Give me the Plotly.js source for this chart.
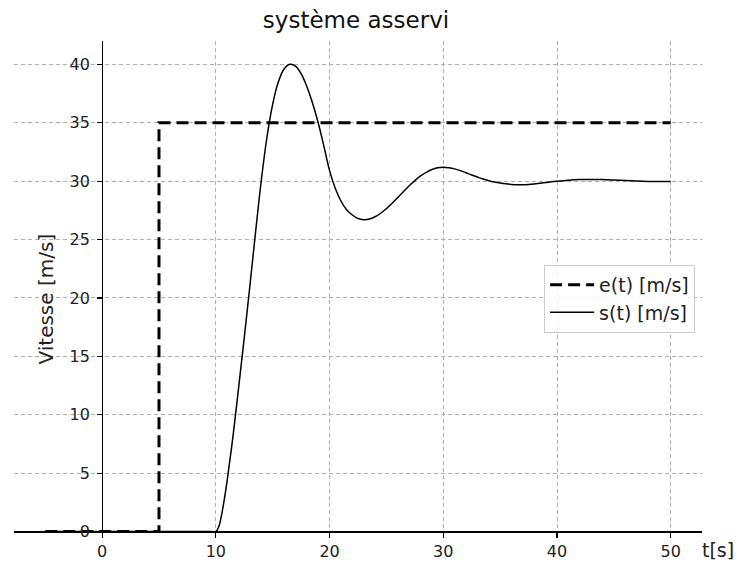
<!DOCTYPE html>
<html>
<head>
<meta charset="utf-8">
<script src="https://cdn.plot.ly/plotly-3.0.1.min.js"></script>
<style>html,body{margin:0;padding:0;background:#fff;}#chart{width:739px;height:563px;}</style>
</head>
<body>
<div id="chart"></div>
<script>
// e(t) consigne (step)
const eT = [-5, 5, 5, 50];
const eV = [0, 0, 35, 35];

// s(t) réponse du système asservi
const sT = [-5, 0, 5, 9.5, 10, 10.25, 10.5, 10.75, 11, 11.5, 12, 12.5, 13, 13.5, 14, 14.5, 15, 15.5, 16, 16.5, 17, 17.5, 18, 18.5, 19, 19.5, 20, 20.5, 21, 21.5, 22, 22.5, 23, 23.5, 24, 24.5, 25, 25.5, 26, 26.5, 27, 27.5, 28, 28.5, 29, 29.5, 30, 30.5, 31, 31.5, 32, 32.5, 33, 33.5, 34, 34.5, 35, 35.5, 36, 36.5, 37, 37.5, 38, 38.5, 39, 39.5, 40, 41, 42, 43, 44, 45, 46, 47, 48, 49, 50];
const sV = [0, 0, 0, 0, 0, 0.4, 1.4, 2.8, 4.4, 8.1, 12.3, 16.6, 21.1, 25.7, 30.1, 33.8, 36.6, 38.5, 39.6, 40.0, 39.85, 39.2, 38.1, 36.7, 35.0, 33.0, 30.9, 29.4, 28.3, 27.55, 27.1, 26.8, 26.7, 26.75, 26.95, 27.25, 27.65, 28.1, 28.6, 29.1, 29.6, 30.05, 30.45, 30.75, 31.0, 31.15, 31.2, 31.15, 31.05, 30.9, 30.72, 30.53, 30.35, 30.18, 30.04, 29.93, 29.84, 29.77, 29.72, 29.7, 29.7, 29.72, 29.76, 29.82, 29.88, 29.95, 30.0, 30.08, 30.13, 30.15, 30.14, 30.1, 30.05, 30.01, 29.98, 29.97, 29.97];

const xTicks = [0, 10, 20, 30, 40, 50];
const yTicks = [0, 5, 10, 15, 20, 25, 30, 35, 40];
const xRange = [-7.75, 52.75];
const yRange = [-0.3, 42];

const FONT = "DejaVu Sans";
const xPos = (0 - yRange[0]) / (yRange[1] - yRange[0]);
const yPos = (0 - xRange[0]) / (xRange[1] - xRange[0]);

const traces = [
  {x: eT, y: eV, type: 'scatter', mode: 'lines', name: 'e(t) [m/s]',
   line: {color: '#000', width: 3, dash: '12px,6px'}},
  {x: sT, y: sV, type: 'scatter', mode: 'lines', name: 's(t) [m/s]',
   line: {color: '#000', width: 1.5, shape: 'spline', smoothing: 1}}
];

const layout = {
  width: 739, height: 563,
  margin: {l: 14, r: 37, t: 41, b: 28},
  paper_bgcolor: '#fff', plot_bgcolor: '#fff',
  showlegend: true,
  font: {family: FONT, color: '#000'},
  title: {text: 'système asservi', x: (356 - 14) / 688, xref: 'paper', xanchor: 'center',
          y: 1 - 20/563, yref: 'container', yanchor: 'middle',
          font: {family: FONT, size: 23, color: '#111'}},
  xaxis: {
    range: xRange, tickvals: xTicks, ticktext: xTicks.map(String),
    anchor: 'free', position: xPos,
    showline: true, linecolor: '#000', linewidth: 1.3,
    ticks: 'outside', ticklen: 5, tickwidth: 1.2, tickcolor: '#000',
    showgrid: true, gridcolor: '#b0b0b0', gridwidth: 1, griddash: '4px,3px',
    zeroline: false, tickfont: {family: FONT, size: 16, color: '#222'},
    ticklabelstandoff: 0
  },
  yaxis: {
    range: yRange, tickvals: yTicks, ticktext: yTicks.map(String),
    anchor: 'free', position: yPos,
    showline: true, linecolor: '#000', linewidth: 1.3,
    ticks: 'outside', ticklen: 5, tickwidth: 1.2, tickcolor: '#000',
    showgrid: true, gridcolor: '#b0b0b0', gridwidth: 1, griddash: '4px,3px',
    zeroline: false, tickfont: {family: FONT, size: 16, color: '#222'},
    ticklabelstandoff: 4
  },
  legend: {x: 0.99, xanchor: 'right', y: 0.547, yanchor: 'top',
           bgcolor: 'rgba(255,255,255,0.85)', bordercolor: '#cccccc', borderwidth: 1,
           itemwidth: 44,
           font: {family: FONT, size: 19, color: '#222'}, tracegroupgap: 0},
  annotations: [
    {text: 'Vitesse [m/s]', xref: 'paper', yref: 'paper', x: (45 - 14) / 688, y: (534.5 - 299) / 494,
     xanchor: 'center', yanchor: 'middle', textangle: -90, showarrow: false,
     font: {family: FONT, size: 20, color: '#222'}},
    {text: 't[s]', xref: 'paper', yref: 'paper', x: (718 - 14) / 688, y: (534.5 - 549) / 494,
     xanchor: 'center', yanchor: 'middle', showarrow: false,
     font: {family: FONT, size: 19, color: '#222'}}
  ]
};

Plotly.newPlot('chart', traces, layout, {displayModeBar: false, staticPlot: true});
</script>
</body>
</html>
